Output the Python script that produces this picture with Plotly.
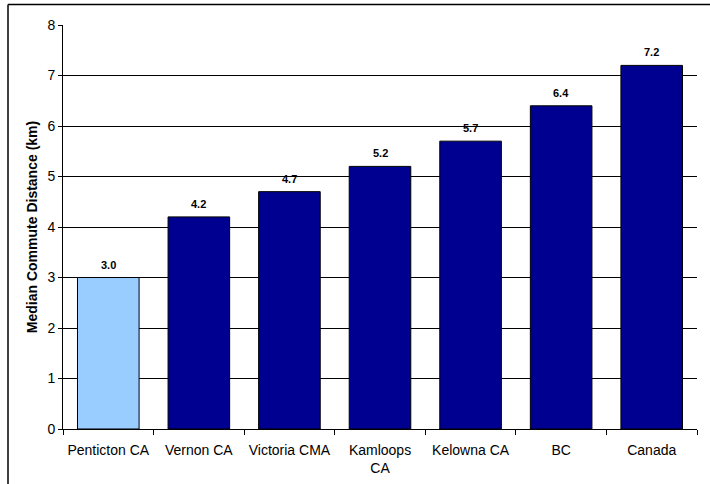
import plotly.graph_objects as go

categories = ["Penticton CA", "Vernon CA", "Victoria CMA", "Kamloops<br>CA", "Kelowna CA", "BC", "Canada"]
values = [3.0, 4.2, 4.7, 5.2, 5.7, 6.4, 7.2]
bar_colors = ["#99CCFF", "#000090", "#000090", "#000090", "#000090", "#000090", "#000090"]

W, H = 710, 484
ml, mr, mt, mb = 63, 13, 25, 55
pw, ph = W - ml - mr, H - mt - mb

fig = go.Figure(go.Bar(
    x=categories,
    y=values,
    marker=dict(color=bar_colors, line=dict(color="black", width=1)),
    width=0.68,
))

# value labels above each bar
for c, v in zip(categories, values):
    fig.add_annotation(
        x=c, y=v, text=f"<b>{v:.1f}</b>", showarrow=False,
        yanchor="bottom", yshift=5,
        font=dict(family="Liberation Sans, Arial", size=11, color="black"),
    )

# outer chart frame (left and top edges)
fx0 = (8 - ml) / pw
fy0 = 1 + (mt - 4.5) / ph
fig.add_shape(type="line", xref="paper", yref="paper", x0=fx0, x1=fx0, y0=fy0, y1=-0.3,
              line=dict(color="black", width=1.5))
fig.add_shape(type="line", xref="paper", yref="paper", x0=fx0, x1=1.2, y0=fy0, y1=fy0,
              line=dict(color="black", width=1.5))

fig.update_layout(
    width=W, height=H,
    margin=dict(l=ml, r=mr, t=mt, b=mb),
    paper_bgcolor="white", plot_bgcolor="white",
    font=dict(family="Liberation Sans, Arial", size=14, color="black"),
    showlegend=False,
    xaxis=dict(
        showline=True, linecolor="black", linewidth=1,
        ticks="outside", ticklen=5, tickcolor="black",
        tickson="boundaries", tickfont=dict(size=14),
        tickangle=0, automargin=False, ticklabelstandoff=8,
    ),
    yaxis=dict(
        range=[0, 8], dtick=1,
        showline=True, linecolor="black", linewidth=1,
        ticks="outside", ticklen=4, tickcolor="black",
        showgrid=True, gridcolor="black", gridwidth=1,
        tickfont=dict(size=14), automargin=False,
        title=dict(text="Median Commute Distance (km)",
                   font=dict(size=14, weight="bold"), standoff=6),
    ),
)

fig.write_html("out.html")
